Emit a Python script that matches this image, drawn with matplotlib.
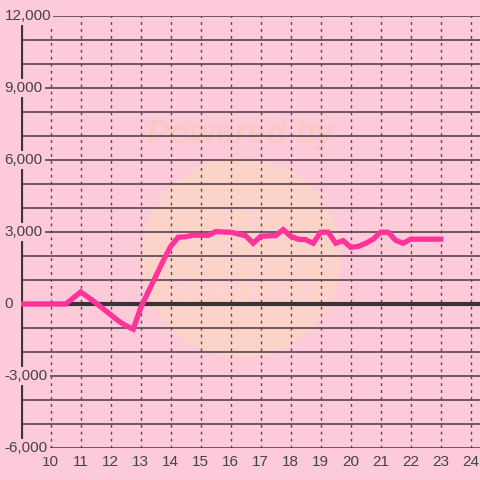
import matplotlib
matplotlib.use("Agg")
import matplotlib.pyplot as plt
from matplotlib.patches import Circle, FancyBboxPatch
import matplotlib.patheffects as pe

plt.rcParams['font.family'] = ['Liberation Sans', 'DejaVu Sans']

# 15-minute samples from 9:00 to 23:00
hours = [9.0 + 0.25 * i for i in range(57)]
values = [0, 0, 0, 0, 0, 0, 0,          # 9:00 - 10:30
          250, 500, 280, 50, -200, -450, -700, -900, -1050,   # 10:45 - 12:45
          -150, 500, 1150, 1800, 2400,  # 13:00 - 14:00
          2780, 2800, 2870, 2860, 2860, 3020, 3000, 2990, 2920, 2840, 2530,  # 14:15 - 16:45
          2820, 2840, 2850, 3100, 2820, 2700, 2680, 2530, 2990, 2990, 2530,  # 17:00 - 19:30
          2640, 2360, 2400, 2530, 2700, 2990, 2990, 2650, 2530, 2700,        # 19:45 - 22:00
          2700, 2700, 2700, 2700]       # 22:15 - 23:00

x_ticks = list(range(10, 25))
y_ticks = [12000, 9000, 6000, 3000, 0, -3000, -6000]
y_labels = ["12,000", "9,000", "6,000", "3,000", "0", "-3,000", "-6,000"]

BG = "#fdcad9"
DARK = "#3a3338"
GRID = "#5a4450"
PINK = "#ff3399"
CIRC = "#fbd3c9"

W = H = 480
fig = plt.figure(figsize=(4.8, 4.8), dpi=100, facecolor=BG)
left_px, bottom_px, top_px = 20.7, 32, 464
ax = fig.add_axes([left_px / W, bottom_px / H, (W - left_px) / W, (top_px - bottom_px) / H])
ax.set_facecolor(BG)
px_per_hour = 30.0
ax.set_xlim(9, 9 + (W - left_px) / px_per_hour)
ax.set_ylim(-6000, 12000)

def fx(px):
    return px / W

def fy(py):
    return 1 - py / H

# watermark (behind grid)
ax.add_patch(Circle((fx(241), fy(258)), 100 / W, transform=fig.transFigure,
                    facecolor=CIRC, edgecolor="none", zorder=0.5))
ax.add_patch(FancyBboxPatch((fx(225), fy(257)), 30 / W, 48 / H,
                            boxstyle="round,pad=0,rounding_size=0.006",
                            transform=fig.transFigure, facecolor="none",
                            edgecolor="#fcd0e0", lw=1.5, zorder=0.6))
ax.text(fx(241), fy(134), "Powered by", transform=fig.transFigure,
        ha="center", va="center", fontsize=24, fontweight="bold",
        fontstyle="italic", color="#f8c9c2", zorder=0.6)
for i, ch in enumerate("PAPIMO"):
    ax.text(fx(181 + i * 24), fy(290), ch, transform=fig.transFigure,
            ha="center", va="center", fontsize=19, color=CIRC, zorder=0.6,
            path_effects=[pe.withStroke(linewidth=2, foreground="#fcd0e2"),
                          pe.Normal()])

# grid
for v in range(-6000, 12001, 1000):
    ax.axhline(v, color=GRID, lw=1.2, zorder=1)
for xt in x_ticks:
    ax.axvline(xt, color=GRID, lw=1.0, ls=(0, (2, 3)), zorder=1)
ax.axhline(0, color=DARK, lw=3, zorder=2)
ax.axvline(9, color=DARK, lw=3, zorder=2)

for s in ax.spines.values():
    s.set_visible(False)

ax.plot(hours, values, color=PINK, lw=3.8, solid_joinstyle="miter", zorder=3)

ax.set_xticks(x_ticks)
ax.set_xticklabels([str(t) for t in x_ticks])
ax.tick_params(axis="x", length=0, pad=5, labelsize=11, labelcolor="#444444")
ax.set_yticks([])

lab_x = 9 - (left_px - 4.5) / px_per_hour
for v, lab in zip(y_ticks, y_labels):
    ax.text(lab_x, v, lab, ha="left", va="center", fontsize=11, color="#444444",
            zorder=5, clip_on=False,
            bbox=dict(facecolor=BG, edgecolor="none", pad=1.5))

fig.savefig("out.png", dpi=100, facecolor=BG)
